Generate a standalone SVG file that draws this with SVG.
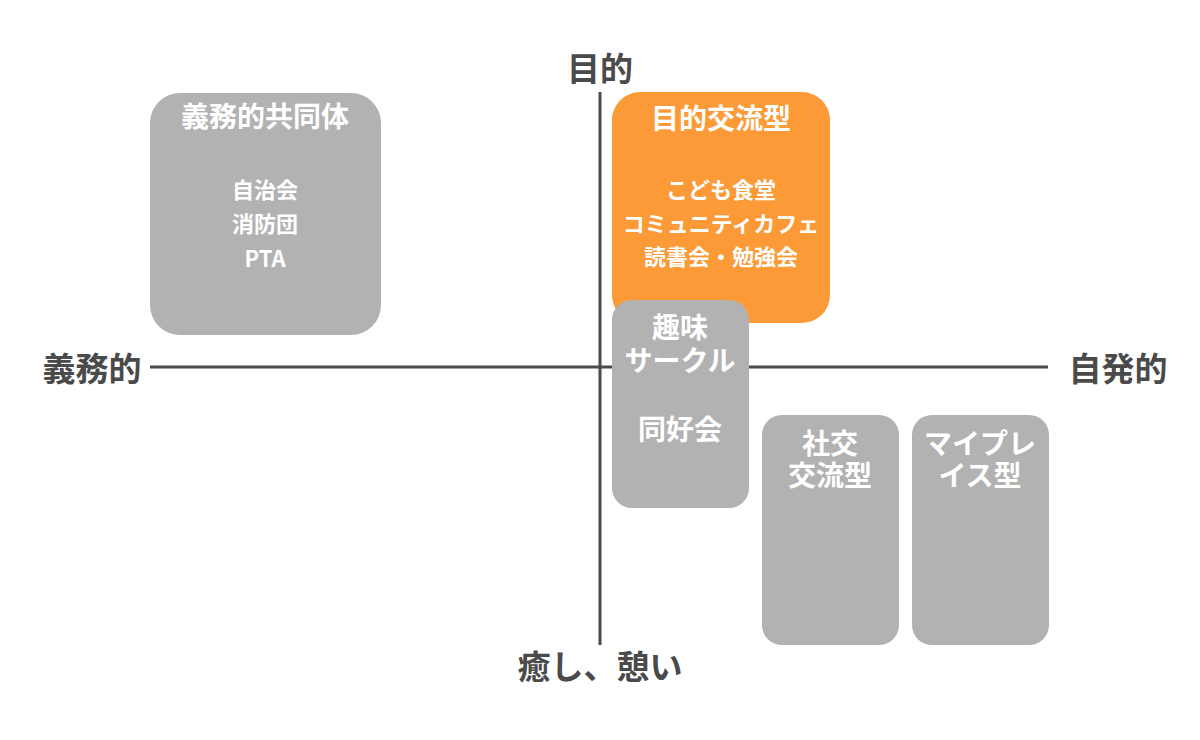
<svg xmlns="http://www.w3.org/2000/svg" width="1200" height="740" viewBox="0 0 1200 740">
<style>
.box{fill:#b2b2b2}
.org{fill:#fb9a36}
.axis{stroke:#4a4a4a;stroke-width:3;fill:none}
text{font-family:"Noto Sans CJK JP","Noto Sans",sans-serif;font-weight:bold;text-anchor:middle;dominant-baseline:central}
.w{fill:#ffffff}
.lab{fill:#4a4a4a;font-size:33px}
.t28{font-size:28px}
.t22{font-size:22px}
</style>
<rect width="1200" height="740" fill="#ffffff"/>
<g id="connectors">
<line class="axis" x1="600" y1="92" x2="600" y2="645"/>
<line class="axis" x1="150" y1="367" x2="1048" y2="367"/>
</g>
<g id="axis-labels">
<text class="lab" x="600" y="67">目的</text>
<text class="lab" x="92" y="367">義務的</text>
<text class="lab" x="1118" y="367">自発的</text>
<text class="lab" x="600" y="665">癒し、憩い</text>
</g>
<g id="node-gimu">
<rect class="box" x="150" y="93" width="231" height="242" rx="30"/>
<text class="w t28" x="265" y="115">義務的共同体</text>
<text class="w t22" x="265" y="188">自治会</text>
<text class="w t22" x="265" y="222">消防団</text>
<text class="w t22" x="265" y="257">PTA</text>
</g>
<g id="node-mokuteki">
<rect class="org" x="612" y="92" width="218" height="231" rx="28"/>
<text class="w t28" x="721" y="117">目的交流型</text>
<text class="w t22" x="721" y="188">こども食堂</text>
<text class="w t22" x="721" y="222">コミュニティカフェ</text>
<text class="w t22" x="721" y="255">読書会・勉強会</text>
</g>
<g id="node-shumi">
<rect class="box" x="612" y="300" width="137" height="208" rx="20"/>
<text class="w t28" x="680" y="326">趣味</text>
<text class="w t28" x="680" y="359">サークル</text>
<text class="w t28" x="680" y="428">同好会</text>
</g>
<g id="node-shako">
<rect class="box" x="762" y="415" width="137" height="230" rx="20"/>
<text class="w t28" x="830" y="442">社交</text>
<text class="w t28" x="830" y="474">交流型</text>
</g>
<g id="node-myplace">
<rect class="box" x="912" y="415" width="137" height="230" rx="20"/>
<text class="w t28" x="980" y="442">マイプレ</text>
<text class="w t28" x="980" y="474">イス型</text>
</g>
</svg>
